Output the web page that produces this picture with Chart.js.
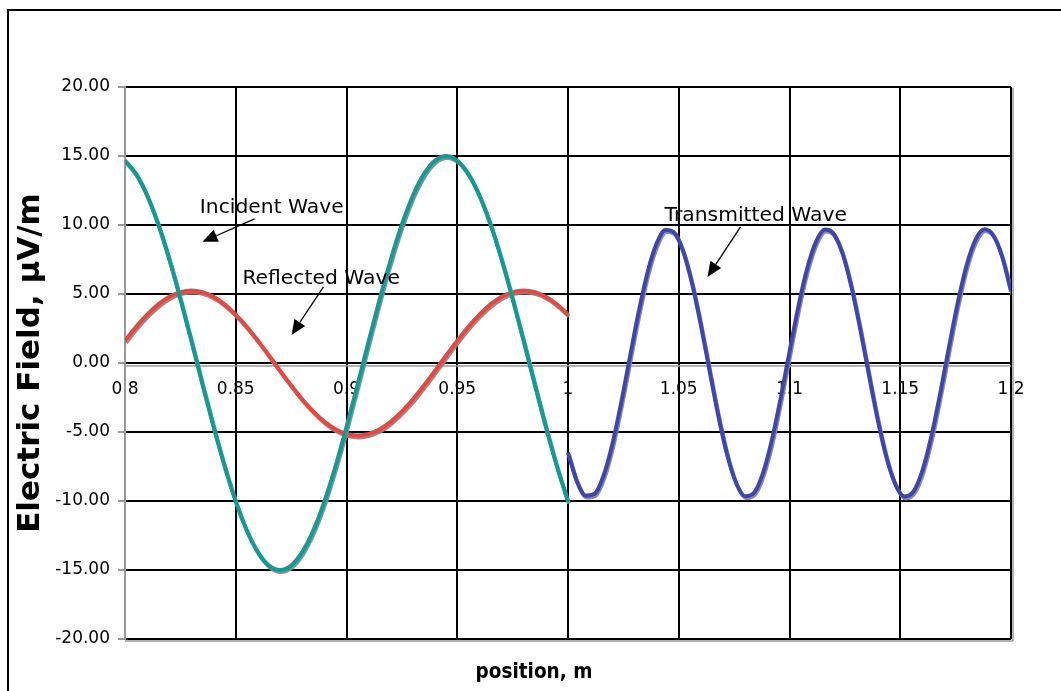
<!DOCTYPE html>
<html><head><meta charset="utf-8">
<script src="https://cdn.jsdelivr.net/npm/chart.js@4.4.1/dist/chart.umd.min.js"></script>
<style>html,body{margin:0;padding:0;background:#fff;overflow:hidden}canvas{display:block}</style>
</head><body>
<canvas id="c" width="1061" height="691"></canvas>
<script>
// ---- data ----
const positionLeft = [0.800,0.805,0.810,0.815,0.820,0.825,0.830,0.835,0.840,0.845,0.850,0.855,0.860,0.865,0.870,0.875,0.880,0.885,0.890,0.895,0.900,0.905,0.910,0.915,0.920,0.925,0.930,0.935,0.940,0.945,0.950,0.955,0.960,0.965,0.970,0.975,0.980,0.985,0.990,0.995,1.000];
const incidentWave = [14.67,13.70,12.14,10.04,7.50,4.64,1.57,-1.57,-4.64,-7.50,-10.04,-12.14,-13.70,-14.67,-15.00,-14.67,-13.70,-12.14,-10.04,-7.50,-4.64,-1.57,1.57,4.64,7.50,10.04,12.14,13.70,14.67,15.00,14.67,13.70,12.14,10.04,7.50,4.64,1.57,-1.57,-4.64,-7.50,-10.04];
const reflectedWave = [1.62,2.63,3.51,4.25,4.80,5.14,5.25,5.14,4.80,4.25,3.51,2.63,1.62,0.55,-0.55,-1.62,-2.63,-3.51,-4.25,-4.80,-5.14,-5.25,-5.14,-4.80,-4.25,-3.51,-2.63,-1.62,-0.55,0.55,1.62,2.63,3.51,4.25,4.80,5.14,5.25,5.14,4.80,4.25,3.51];
const positionRight = [1.000,1.004,1.008,1.012,1.016,1.020,1.024,1.028,1.032,1.036,1.040,1.044,1.048,1.052,1.056,1.060,1.064,1.068,1.072,1.076,1.080,1.084,1.088,1.092,1.096,1.100,1.104,1.108,1.112,1.116,1.120,1.124,1.128,1.132,1.136,1.140,1.144,1.148,1.152,1.156,1.160,1.164,1.168,1.172,1.176,1.180,1.184,1.188,1.192,1.196,1.200];
const transmittedWave = [-6.49,-8.57,-9.61,-9.48,-8.19,-5.90,-2.89,0.47,3.77,6.62,8.65,9.63,9.44,8.09,5.76,2.73,-0.64,-3.93,-6.74,-8.73,-9.65,-9.40,-8.00,-5.62,-2.56,0.81,4.09,6.86,8.80,9.67,9.35,7.90,5.48,2.40,-0.98,-4.24,-6.98,-8.87,-9.68,-9.31,-7.80,-5.34,-2.23,1.15,4.39,7.10,8.94,9.69,9.26,7.70,5.20];
const seriesNames = ['Incident Wave','Reflected Wave','Transmitted Wave'];
const xTitle = 'position, m';
const yTitle = 'Electric Field, µV/m';

// annotation placement (data units)
const annotations = [
  {text: seriesNames[0], at: [0.8338, 11.25], from: [0.8585, 10.45], to: [0.8350, 8.78]},
  {text: seriesNames[1], at: [0.8530, 6.10],  from: [0.8896, 5.52],  to: [0.8752, 2.03]},
  {text: seriesNames[2], at: [1.0436, 10.67], from: [1.0779, 9.87],  to: [1.0630, 6.24]}
];

const FONT = '"DejaVu Sans", Verdana, sans-serif';
Chart.defaults.font.family = FONT;
Chart.defaults.color = '#000';

const toPoints = (xs, ys) => xs.map((x, i) => ({x, y: ys[i]}));

const framePlugin = {
  id: 'frame',
  beforeDraw(chart) {
    const c = chart.ctx;
    c.save();
    c.fillStyle = '#fff';
    c.fillRect(0, 0, chart.width, chart.height);
    c.strokeStyle = '#000';
    c.lineWidth = 2;
    c.strokeRect(8, 10, chart.width + 20, chart.height + 20);
    c.restore();
  },
  beforeDatasetsDraw(chart) {
    const {ctx: c, chartArea: a, scales: {y}} = chart;
    c.save();
    c.strokeStyle = '#9a9a9a';
    c.lineWidth = 1.5;
    const z = y.getPixelForValue(0) + 3;
    c.beginPath();
    c.moveTo(a.left, z); c.lineTo(a.right, z);
    c.moveTo(a.left, a.bottom + 2); c.lineTo(a.right + 2, a.bottom + 2);
    c.moveTo(a.right + 2, a.top + 1); c.lineTo(a.right + 2, a.bottom + 2);
    c.stroke();
    c.restore();
  },
  afterDraw(chart) {
    const c = chart.ctx;
    c.save();
    c.font = 'bold 20.5px "DejaVu Sans Condensed", "DejaVu Sans", sans-serif';
    c.fillStyle = '#000';
    c.textAlign = 'center';
    c.textBaseline = 'middle';
    c.fillText(xTitle, 534, 673);
    c.restore();
  }
};

const shadowPlugin = {
  id: 'shadow',
  beforeDatasetDraw(chart) {
    const c = chart.ctx;
    c.save();
    c.shadowColor = 'rgba(135,135,135,0.95)';
    c.shadowOffsetX = 1;
    c.shadowOffsetY = 2;
    c.shadowBlur = 0;
  },
  afterDatasetDraw(chart) { chart.ctx.restore(); }
};

const annotPlugin = {
  id: 'annot',
  afterDatasetsDraw(chart) {
    const {ctx, scales: {x, y}} = chart;
    ctx.save();
    ctx.font = '20.3px ' + FONT;
    ctx.fillStyle = '#000';
    ctx.strokeStyle = '#000';
    ctx.textAlign = 'left';
    ctx.textBaseline = 'middle';
    annotations.forEach(a => {
      ctx.fillText(a.text, x.getPixelForValue(a.at[0]), y.getPixelForValue(a.at[1]));
      const x0 = x.getPixelForValue(a.from[0]), y0 = y.getPixelForValue(a.from[1]);
      const x1 = x.getPixelForValue(a.to[0]), y1 = y.getPixelForValue(a.to[1]);
      const ang = Math.atan2(y1 - y0, x1 - x0);
      const L = 15, W = 6.5;
      const bx = x1 - L * Math.cos(ang), by = y1 - L * Math.sin(ang);
      ctx.lineWidth = 1.3;
      ctx.beginPath(); ctx.moveTo(x0, y0); ctx.lineTo(bx, by); ctx.stroke();
      ctx.beginPath();
      ctx.moveTo(x1, y1);
      ctx.lineTo(bx + W * Math.sin(ang), by - W * Math.cos(ang));
      ctx.lineTo(bx - W * Math.sin(ang), by + W * Math.cos(ang));
      ctx.closePath(); ctx.fill();
    });
    ctx.restore();
  }
};

new Chart(document.getElementById('c'), {
  type: 'line',
  data: {
    datasets: [
      {label: seriesNames[0], data: toPoints(positionLeft, incidentWave), borderColor: '#0f9b98', borderWidth: 4},
      {label: seriesNames[1], data: toPoints(positionLeft, reflectedWave), borderColor: '#e9463d', borderWidth: 4},
      {label: seriesNames[2], data: toPoints(positionRight, transmittedWave), borderColor: '#3c46b2', borderWidth: 4}
    ]
  },
  options: {
    responsive: false,
    animation: false,
    devicePixelRatio: 1,
    parsing: false,
    elements: {point: {radius: 0}, line: {cubicInterpolationMode: 'monotone', fill: false}},
    layout: {padding: {top: 87, right: 50, bottom: 52, left: 0}},
    plugins: {
      legend: {display: false},
      tooltip: {enabled: false},
      title: {display: false}
    },
    scales: {
      x: {
        type: 'linear', axis: 'x', position: {y: 0}, min: 0.8, max: 1.2,
        ticks: {stepSize: 0.05, autoSkip: false, maxRotation: 0, padding: 16, color: '#000',
          font: {family: FONT, size: 17},
          callback: v => String(Math.round(v * 100) / 100)},
        grid: {color: '#000', lineWidth: 2, drawTicks: false},
        border: {display: false}
      },
      y: {
        type: 'linear', position: 'left', min: -20, max: 20,
        ticks: {stepSize: 5, padding: 8, color: '#000', font: {family: FONT, size: 17},
          callback: v => v.toFixed(2)},
        grid: {color: '#000', lineWidth: 2, tickLength: 7, tickColor: '#999'},
        border: {display: true, color: '#999', width: 2},
        title: {display: true, text: yTitle, color: '#000',
          font: {family: FONT, size: 31, weight: 'bold'}, padding: {top: 12, bottom: 0}},
        afterFit(s) { s.width = 125; }
      }
    }
  },
  plugins: [framePlugin, shadowPlugin, annotPlugin]
});
</script>
</body></html>
